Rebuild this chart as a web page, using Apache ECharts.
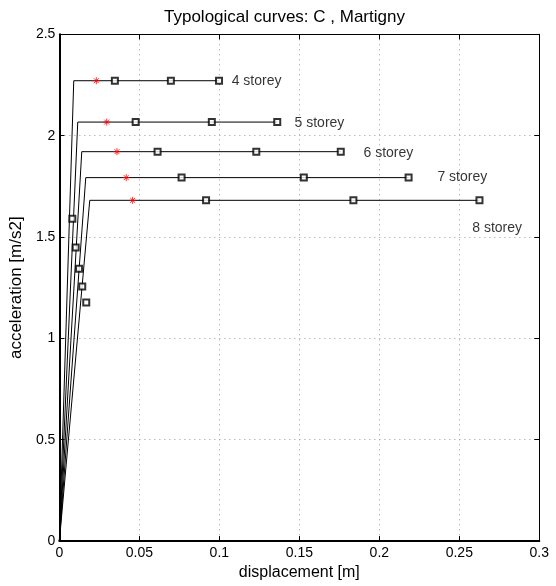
<!DOCTYPE html>
<html>
<head>
<meta charset="utf-8">
<script src="https://cdn.jsdelivr.net/npm/echarts@6/dist/echarts.min.js"></script>
<style>
html,body{margin:0;padding:0;background:#fff;}
#chart{width:556px;height:586px;}
</style>
</head>
<body>
<div id="chart"></div>
<script>
// ---- data ----
var storeys = ['4 storey', '5 storey', '6 storey', '7 storey', '8 storey'];
var yieldDisp = [0.0090, 0.0115, 0.0140, 0.0165, 0.0190];
var plateauAcc = [2.271, 2.067, 1.921, 1.793, 1.681];
var ultimateDisp = [0.0998, 0.1362, 0.1759, 0.2183, 0.2626];
var squareDisp1 = [0.0347, 0.0477, 0.0614, 0.0764, 0.0917];
var squareDisp2 = [0.0697, 0.0953, 0.1231, 0.1528, 0.1838];
var starDisp = [0.0231, 0.0296, 0.0360, 0.0418, 0.0458];
var risingDisp = [0.0081, 0.0102, 0.0123, 0.0143, 0.0168];
var risingAcc = [1.590, 1.448, 1.344, 1.256, 1.177];
var labelX = [0.1077, 0.1470, 0.1901, 0.2363, 0.2581];
var labelY = [2.271, 2.063, 1.916, 1.793, 1.546];
var xTicks = {min: 0, max: 0.3, interval: 0.05};
var yTicks = {min: 0, max: 2.5, interval: 0.5};

var FONT = '"Liberation Sans", Arial, Helvetica, sans-serif';
var chart = echarts.init(document.getElementById('chart'), null, {renderer: 'canvas'});

var series = [];
storeys.forEach(function (s, i) {
  series.push({
    type: 'line', name: s, showSymbol: false, symbol: 'none', z: 2,
    lineStyle: {color: '#000', width: 1},
    data: [[0, 0], [yieldDisp[i], plateauAcc[i]], [ultimateDisp[i], plateauAcc[i]]]
  });
});
var sq = [];
storeys.forEach(function (s, i) {
  sq.push([squareDisp1[i], plateauAcc[i]]);
  sq.push([squareDisp2[i], plateauAcc[i]]);
  sq.push([ultimateDisp[i], plateauAcc[i]]);
  sq.push([risingDisp[i], risingAcc[i]]);
});
series.push({
  type: 'scatter', symbol: 'emptyRect', symbolSize: 6, z: 4,
  itemStyle: {color: '#000', borderColor: '#000', borderWidth: 0.9},
  data: sq
});
series.push({
  type: 'scatter', z: 5,
  symbol: 'path://M5,0L5,10M0,5L10,5M1.5,1.5L8.5,8.5M1.5,8.5L8.5,1.5',
  symbolSize: 7,
  itemStyle: {color: 'rgba(0,0,0,0)', borderColor: '#ff0000', borderWidth: 1},
  data: starDisp.map(function (d, i) { return [d, plateauAcc[i]]; })
});
series.push({
  type: 'scatter', symbol: 'circle', symbolSize: 0, z: 6,
  itemStyle: {color: 'rgba(0,0,0,0)'},
  label: {show: true, position: 'right', distance: 0, color: '#000', fontSize: 14, fontFamily: FONT,
          formatter: function (p) { return p.name; }},
  data: storeys.map(function (s, i) { return {name: s, value: [labelX[i], labelY[i]]}; })
});

var gridLine = {show: true, showMinLine: false, showMaxLine: false, lineStyle: {type: [1, 4], color: '#999', width: 1}};
var tick = {show: true, inside: true, length: 5, lineStyle: {color: '#000', width: 1}};

chart.setOption({
  animation: false,
  backgroundColor: '#fff',
  title: {
    text: 'Typological curves: C , Martigny', left: 164, top: 9, padding: 0,
    textStyle: {fontSize: 17, fontWeight: 'normal', color: '#000', fontFamily: FONT}
  },
  grid: {left: 58.3, right: 16.7, top: 34.3, bottom: 43.3, containLabel: false},
  xAxis: [{
    type: 'value', position: 'bottom', min: xTicks.min, max: xTicks.max, interval: xTicks.interval,
    axisLine: {show: true, onZero: false, lineStyle: {color: '#000', width: 2}},
    axisTick: tick,
    axisLabel: {margin: 5, fontSize: 14, color: '#000', fontFamily: FONT, showMinLabel: true, showMaxLabel: true},
    splitLine: gridLine,
    name: 'displacement [m]', nameLocation: 'middle', nameGap: 21,
    nameTextStyle: {fontSize: 16, color: '#000', fontFamily: FONT}
  }, {
    type: 'value', position: 'top', min: xTicks.min, max: xTicks.max, interval: xTicks.interval,
    axisLine: {show: true, onZero: false, lineStyle: {color: '#000', width: 1}},
    axisTick: tick, axisLabel: {show: false}, splitLine: {show: false}
  }],
  yAxis: [{
    type: 'value', position: 'left', min: yTicks.min, max: yTicks.max, interval: yTicks.interval,
    axisLine: {show: true, onZero: false, lineStyle: {color: '#000', width: 2}},
    axisTick: tick,
    axisLabel: {margin: 4, fontSize: 14, color: '#000', fontFamily: FONT, showMinLabel: true, showMaxLabel: true},
    splitLine: gridLine,
    name: 'acceleration [m/s2]', nameLocation: 'middle', nameGap: 30,
    nameTextStyle: {fontSize: 17, color: '#000', fontFamily: FONT}
  }, {
    type: 'value', position: 'right', min: yTicks.min, max: yTicks.max, interval: yTicks.interval,
    axisLine: {show: true, onZero: false, lineStyle: {color: '#000', width: 1}},
    axisTick: tick, axisLabel: {show: false}, splitLine: {show: false}
  }],
  series: series
});
</script>
</body>
</html>
